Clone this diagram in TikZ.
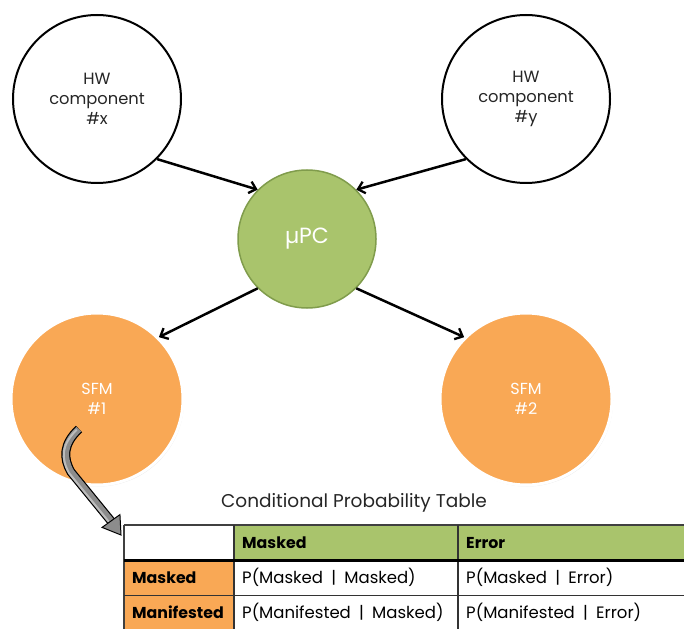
\documentclass[tikz,border=0pt]{standalone}
\usepackage{fontspec}
\setmainfont{Poppins}
\usetikzlibrary{arrows.meta,calc,shadows}

\definecolor{leafgreen}{HTML}{A9C46C}
\definecolor{leafedge}{HTML}{809C4C}
\definecolor{peach}{HTML}{F9A855}
\definecolor{ink}{HTML}{262626}
\definecolor{pipegray}{HTML}{8C8C8C}

\tikzset{
  hwnode/.style={circle, draw=black, line width=2pt, fill=white,
    minimum size=168pt, inner sep=0pt, align=center, text=ink,
    font=\fontsize{16.3}{20}\selectfont},
  pcnode/.style={circle, draw=leafedge, line width=1.5pt, fill=leafgreen,
    minimum size=138pt, inner sep=0pt, text=white,
    font=\fontsize{22}{24}\selectfont},
  sfmnode/.style={circle, draw=white, line width=3pt, fill=peach,
    minimum size=172pt, inner sep=0pt, align=center, text=white,
    font=\fontsize{16}{20}\selectfont,
    drop shadow={opacity=0.18, shadow xshift=1pt, shadow yshift=-1.5pt}},
  link/.style={line width=2.5pt, -{Straight Barb[length=6.5pt,width=12pt,line width=2.3pt]}},
  cell/.style={rectangle, anchor=north west, inner xsep=8pt, inner ysep=0pt,
    minimum height=35pt, align=left, font=\fontsize{16.5}{18}\selectfont,
    text=black},
  headcell/.style={cell, font=\fontsize{15.8}{18}\bfseries\selectfont},
}

\begin{document}
\begin{tikzpicture}[x=1pt,y=-1pt]
\useasboundingbox (0,0) rectangle (684,628);
\clip (0,0) rectangle (684,628);

% --- nodes of the network ---
\node[hwnode] (hwx) at (97,99) {HW\\component\\\#x};
\node[hwnode] (hwy) at (526,99) {HW\\component\\\#y};
\node[pcnode] (upc) at (307,239) {µPC};
\node[sfmnode] (sfma) at (97,399) {SFM\\\#1};
\node[sfmnode] (sfmb) at (526,399) {SFM\\\#2};

% --- dependencies ---
\draw[link] (hwx.south east) -- (upc.north west);
\draw[link] (hwy.south west) -- (upc.north east);
\draw[link] (upc.south west) -- (sfma.north east);
\draw[link] (upc.south east) -- (sfmb.north west);

% --- table caption ---
\node[font=\fontsize{18.5}{20}\selectfont, text=ink, anchor=base] (cpt)
  at (354,507) {Conditional Probability Table};

% --- conditional probability table ---
\node[cell, fill=white, minimum width=110pt, text width=94pt] (c00) at (124,525) {};
\node[headcell, fill=leafgreen, minimum width=224pt, text width=208pt] (c01) at (234,525) {Masked};
\node[headcell, fill=leafgreen, minimum width=240pt, text width=224pt] (c02) at (458,525) {Error};
\node[headcell, fill=peach, minimum width=110pt, text width=94pt] (c10) at (124,560) {Masked};
\node[cell, fill=white, minimum width=224pt, text width=208pt] (c11) at (234,560) {P(Masked \,|\, Masked)};
\node[cell, fill=white, minimum width=240pt, text width=224pt] (c12) at (458,560) {P(Masked \,|\, Error)};
\node[headcell, fill=peach, minimum width=110pt, text width=94pt] (c20) at (124,595) {Manifested};
\node[cell, fill=white, minimum width=224pt, text width=208pt] (c21) at (234,595) {P(Manifested \,|\, Masked)};
\node[cell, fill=white, minimum width=240pt, text width=224pt] (c22) at (458,595) {P(Manifested \,|\, Error)};

% table rules
\draw[line width=1.2pt, black!75] (c00.north west) -- (c02.north east);
\draw[line width=1.2pt, black!75] (c00.north west) -- (c20.south west);
\draw[line width=1.2pt, black!80] (c01.north west) -- (c21.south west);
\draw[line width=1.2pt, black!80] (c02.north west) -- (c22.south west);
\draw[line width=1pt, black!80] (c10.south west) -- (c12.south east);
\draw[line width=3pt, black] (c00.south west) -- (c02.south east);

% --- pointer from SFM #1 to the table ---
\coordinate (ps) at (79,429);
\coordinate (pb) at (111,521);
\coordinate (pt) at (121,535);
\draw[line width=9pt, black] (ps) .. controls (63,444) and (63,458) .. (71,472) -- (pb);
\draw[line width=6.6pt, pipegray] ($(ps)!0.3pt!(63,444)$) .. controls (63,444) and (63,458) .. (71,472) -- (pb);
\draw[line width=2pt, white!70!pipegray, opacity=0.6] ($(ps)!1pt!(63,444)+(-1.5,0)$) .. controls (61,445) and (61,458) .. (69,473) -- ($(pb)+(-2,1)$);
\fill[pipegray, draw=black, line width=1pt, line join=miter]
  ($(pb)!11pt!90:(pt)$) -- (pt) -- ($(pb)!11pt!-90:(pt)$) -- cycle;
\end{tikzpicture}
\end{document}
